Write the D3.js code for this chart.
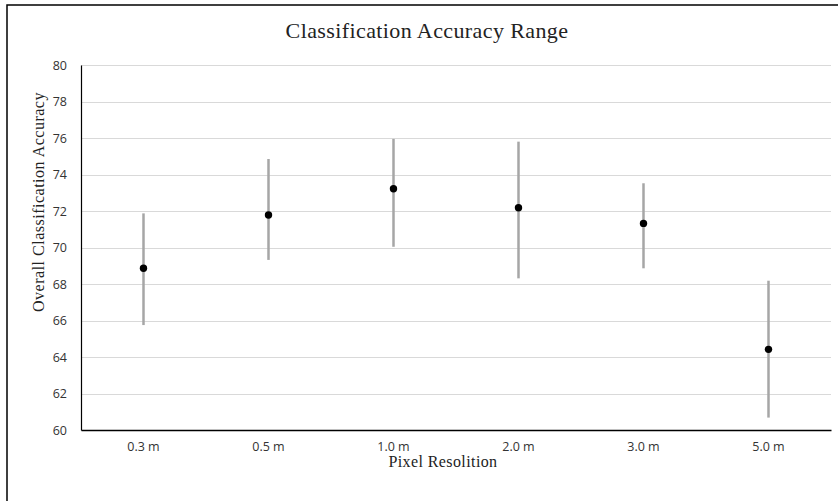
<!DOCTYPE html>
<html>
<head>
<meta charset="utf-8">
<script src="https://cdn.jsdelivr.net/npm/d3@7"></script>
<style>
  body { margin: 0; background: #fff; }
  svg { display: block; }
</style>
</head>
<body>
<div id="chart"></div>
<script>
const resolutions = ["0.3 m", "0.5 m", "1.0 m", "2.0 m", "3.0 m", "5.0 m"]
const meanAccuracy = [68.86, 71.78, 73.22, 72.18, 71.32, 64.42]
const maxAccuracy = [71.87, 74.85, 75.95, 75.8, 73.52, 68.18]
const minAccuracy = [65.75, 69.32, 70.04, 68.31, 68.86, 60.68]
const yTicks = [60, 62, 64, 66, 68, 70, 72, 74, 76, 78, 80]

const width = 838
const height = 501
const margin = { top: 65, right: 7, bottom: 71, left: 81 }

const data = resolutions.map((r, i) => ({
  label: r,
  mean: meanAccuracy[i],
  hi: maxAccuracy[i],
  lo: minAccuracy[i]
}))

const svg = d3
  .select("#chart")
  .append("svg")
  .attr("width", width)
  .attr("height", height)

// outer chart border (cropped on the right and bottom)
svg
  .append("rect")
  .attr("x", 7)
  .attr("y", 5)
  .attr("width", width + 20)
  .attr("height", height + 20)
  .attr("fill", "none")
  .attr("stroke", "#000")
  .attr("stroke-width", 1.5)

const x = d3
  .scaleBand()
  .domain(resolutions)
  .range([margin.left, width - margin.right])

const y = d3
  .scaleLinear()
  .domain([60, 80])
  .range([height - margin.bottom, margin.top])

// gridlines
svg
  .append("g")
  .selectAll("line")
  .data(yTicks.filter(t => t > 60))
  .enter()
  .append("line")
  .attr("x1", margin.left)
  .attr("x2", width - margin.right)
  .attr("y1", d => Math.round(y(d)) + 0.5)
  .attr("y2", d => Math.round(y(d)) + 0.5)
  .attr("stroke", "#d9d9d9")
  .attr("stroke-width", 1)

const tickFont = "'Open Sans', 'DejaVu Sans', sans-serif"
const serif = "'Liberation Serif', 'Times New Roman', serif"

// y axis
const yAxis = svg
  .append("g")
  .attr("transform", `translate(${margin.left},0)`)
  .call(d3.axisLeft(y).tickValues(yTicks).tickSize(0).tickPadding(14).tickFormat(d3.format("d")))
yAxis.select(".domain").attr("stroke", "#000").attr("stroke-width", 1.2)
yAxis
  .selectAll("text")
  .attr("fill", "#333")
  .attr("font-family", tickFont)
  .attr("font-size", 12.5)

// x axis
const xAxis = svg
  .append("g")
  .attr("transform", `translate(0,${height - margin.bottom})`)
  .call(d3.axisBottom(x).tickSize(0).tickPadding(12))
xAxis.select(".domain").attr("stroke", "#000").attr("stroke-width", 1.5)
xAxis
  .selectAll("text")
  .attr("fill", "#333")
  .attr("font-family", tickFont)
  .attr("font-size", 12.5)

// error bars
const cx = d => x(d.label) + x.bandwidth() / 2

svg
  .append("g")
  .selectAll("line")
  .data(data)
  .enter()
  .append("line")
  .attr("x1", cx)
  .attr("x2", cx)
  .attr("y1", d => y(d.hi))
  .attr("y2", d => y(d.lo))
  .attr("stroke", "#a6a6a6")
  .attr("stroke-width", 2.5)

svg
  .append("g")
  .selectAll("circle")
  .data(data)
  .enter()
  .append("circle")
  .attr("cx", cx)
  .attr("cy", d => y(d.mean))
  .attr("r", 3.7)
  .attr("fill", "#000")

// titles
svg
  .append("text")
  .attr("x", 427)
  .attr("y", 38)
  .attr("text-anchor", "middle")
  .attr("font-family", serif)
  .attr("font-size", 22)
  .attr("letter-spacing", 0.4)
  .attr("fill", "#222")
  .text("Classification Accuracy Range")

svg
  .append("text")
  .attr("x", 443)
  .attr("y", 467)
  .attr("text-anchor", "middle")
  .attr("font-family", serif)
  .attr("font-size", 16)
  .attr("letter-spacing", 0.4)
  .attr("fill", "#222")
  .text("Pixel Resolition")

svg
  .append("text")
  .attr("transform", "translate(44,202) rotate(-90)")
  .attr("text-anchor", "middle")
  .attr("font-family", serif)
  .attr("font-size", 16)
  .attr("letter-spacing", 0.5)
  .attr("fill", "#222")
  .text("Overall Classification Accuracy")
</script>
</body>
</html>
